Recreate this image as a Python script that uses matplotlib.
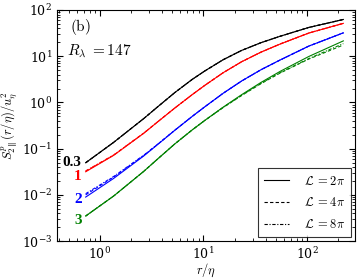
import numpy as np
import matplotlib as mpl
mpl.use('Agg')
import matplotlib.pyplot as plt

mpl.rcParams['mathtext.fontset'] = 'cm'
mpl.rcParams['font.family'] = 'serif'
mpl.rcParams['font.serif'] = ['DejaVu Serif']

# r/eta sample points
r = [0.73, 1.36, 2.66, 3.6, 5.3, 7.8, 10.3, 15.5, 23.4, 36, 55, 104, 224]

# L = 2pi (solid)
s_03 = [0.0495, 0.137, 0.450, 0.798, 1.64, 3.16, 4.80, 8.41, 13.4, 19.7, 27.1, 42.0, 62.5]
s_1 = [0.0316, 0.0716, 0.216, 0.377, 0.759, 1.48, 2.34, 4.40, 7.62, 12.3, 18.4, 31.8, 51.5]
s_2 = [0.00895, 0.0227, 0.0697, 0.122, 0.250, 0.500, 0.804, 1.58, 2.92, 5.12, 8.30, 16.6, 32.1]
s_3 = [0.00348, 0.00944, 0.0324, 0.0593, 0.127, 0.255, 0.408, 0.791, 1.476, 2.72, 4.71, 9.89, 21.5]

# L = 4pi (dashed)
s_03_4 = [0.0495, 0.137, 0.450, 0.798, 1.64, 3.16, 4.80, 8.41, 13.4, 19.7, 27.1, 42.0, 62.5]
s_1_4 = [0.0325, 0.0725, 0.217, 0.378, 0.759, 1.48, 2.34, 4.40, 7.62, 12.3, 18.4, 31.8, 51.5]
s_2_4 = [0.0100, 0.0243, 0.0715, 0.123, 0.251, 0.500, 0.804, 1.58, 2.92, 5.12, 8.30, 16.6, 32.1]
s_3_4 = [0.00348, 0.00944, 0.0324, 0.0593, 0.127, 0.255, 0.408, 0.775, 1.417, 2.56, 4.33, 8.70, 17.5]

# L = 8pi (dash-dot)
s_03_8 = [0.0495, 0.137, 0.450, 0.798, 1.64, 3.16, 4.80, 8.41, 13.4, 19.7, 27.1, 42.0, 62.5]
s_1_8 = [0.0330, 0.0730, 0.218, 0.378, 0.759, 1.48, 2.34, 4.40, 7.62, 12.3, 18.4, 31.8, 51.5]
s_2_8 = [0.0106, 0.0250, 0.0725, 0.124, 0.252, 0.500, 0.804, 1.58, 2.92, 5.12, 8.30, 16.6, 32.1]
s_3_8 = [0.00348, 0.00944, 0.0324, 0.0593, 0.127, 0.255, 0.408, 0.783, 1.43, 2.60, 4.43, 8.9, 18.8]

p_labels = ['0.3', '1', '2', '3']
label_dy = [0, -3.6, -2, -3]
colors = ['k', 'r', 'b', 'g']
solid = [s_03, s_1, s_2, s_3]
dashed = [s_03_4, s_1_4, s_2_4, s_3_4]
dashdot = [s_03_8, s_1_8, s_2_8, s_3_8]

fig = plt.figure(figsize=(3.6, 2.79), dpi=100)
ax = fig.add_axes([0.158, 0.136, 0.828, 0.828])

lw = 0.8
for c, a, b, d in zip(colors, solid, dashed, dashdot):
    ax.plot(r, a, '-', color=c, lw=lw)
    ax.plot(r, b, '--', color=c, lw=lw, dashes=(3, 2))
    ax.plot(r, d, '-.', color=c, lw=lw, dashes=(3, 1.5, 1, 1.5))

for lab, dy, c, a in zip(p_labels, label_dy, colors, solid):
    ax.annotate(lab, (r[0], a[0]), xytext=(-3, dy), textcoords='offset points',
                color=c, fontsize=11, fontweight='bold', family='Liberation Serif',
                ha='right', va='center')

ax.set_xscale('log')
ax.set_yscale('log')
ax.set_xlim(0.385, 290)
ax.set_ylim(1e-3, 1e2)
ax.tick_params(which='both', direction='in', top=True, right=True, labelsize=9)
ax.tick_params(which='major', length=4)
ax.tick_params(which='minor', length=2)

ax.set_xlabel(r'$r/\eta$', fontsize=9, labelpad=0)
ax.set_ylabel(r'$S^p_{2\parallel}(r/\eta)/u_\eta^2$', fontsize=9, labelpad=2)

ax.text(0.043, 0.925, r'$\mathrm{(b)}$', transform=ax.transAxes, fontsize=11, va='center')
ax.text(0.035, 0.82, r'$R_\lambda\;{=}147$', transform=ax.transAxes, fontsize=11, va='center')

h1, = ax.plot([], [], 'k-', lw=lw)
h2, = ax.plot([], [], 'k--', lw=lw, dashes=(3, 2))
h3, = ax.plot([], [], 'k-.', lw=lw, dashes=(3, 1.5, 1, 1.5))
leg = ax.legend([h1, h2, h3],
                [r'$\mathcal{L}\;{=}2\pi$', r'$\mathcal{L}\;{=}4\pi$', r'$\mathcal{L}\;{=}8\pi$'],
                loc='lower right', fontsize=9, fancybox=False, edgecolor='k',
                handlelength=2.0, handletextpad=1.2, borderaxespad=0.3,
                labelspacing=0.7, borderpad=0.5)
leg.get_frame().set_linewidth(0.8)

fig.savefig('out.png', dpi=100)
